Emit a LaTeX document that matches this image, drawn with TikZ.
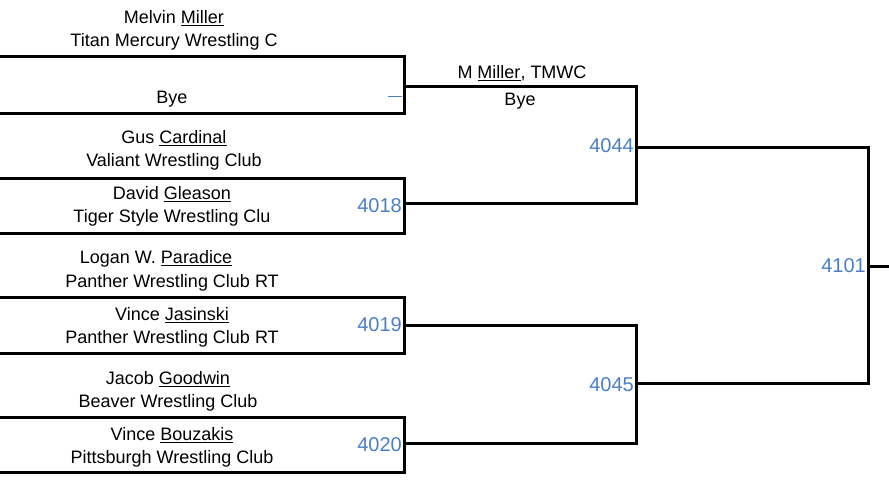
\documentclass[tikz,border=0pt]{standalone}
\usepackage{fontspec}
\setmainfont{Liberation Sans}
\definecolor{numblue}{HTML}{4A7FC8}
\begin{document}
\begin{tikzpicture}[x=1pt,y=-1pt,
  br/.style={line width=3pt,line cap=rect},
  nm/.style={font=\fontsize{18}{20}\selectfont,inner sep=0pt,anchor=center},
  num/.style={font=\fontsize{20}{22}\selectfont,text=numblue,inner sep=0pt,anchor=east}]
\useasboundingbox (0,0) rectangle (889,480);
% first round
\coordinate (a1) at (0,56); \coordinate (a2) at (0,113);
\coordinate (b1) at (0,178); \coordinate (b2) at (0,233);
\coordinate (c1) at (0,297); \coordinate (c2) at (0,353);
\coordinate (d1) at (0,417); \coordinate (d2) at (0,472);
\draw[br] (a1) -- (404,56) -- (404,113) -- (a2);
\draw[br] (b1) -- (404,178) -- (404,233) -- (b2);
\draw[br] (c1) -- (404,297) -- (404,353) -- (c2);
\draw[br] (d1) -- (404,417) -- (404,472) -- (d2);
\draw[numblue,line width=0.8pt] (388,96) -- (402,96);
% second round
\draw[br] (404,86) -- (636,86) -- (636,203) -- (404,203);
\draw[br] (404,325) -- (636,325) -- (636,443) -- (404,443);
% third
\draw[br] (636,147) -- (868,147) -- (868,383) -- (636,383);
\draw[br] (868,266) -- (889,266);
% names
\node[nm] (t1) at (174,18) {Melvin \underline{Miller}};
\node[nm] (t2) at (174,42) {Titan Mercury Wrestling C};
\node[nm] (t3) at (172,99) {Bye};
\node[nm] (t4) at (174,138) {Gus \underline{Cardinal}};
\node[nm] (t5) at (174,162) {Valiant Wrestling Club};
\node[nm] (t6) at (172,194) {David \underline{Gleason}};
\node[nm] (t7) at (172,218) {Tiger Style Wrestling Clu};
\node[nm] (t8) at (156,259) {Logan W. \underline{Paradice}};
\node[nm] (t9) at (172,283) {Panther Wrestling Club RT};
\node[nm] (t10) at (172,315) {Vince \underline{Jasinski}};
\node[nm] (t11) at (172,339) {Panther Wrestling Club RT};
\node[nm] (t12) at (168,379) {Jacob \underline{Goodwin}};
\node[nm] (t13) at (168,403) {Beaver Wrestling Club};
\node[nm] (t14) at (172,435) {Vince \underline{Bouzakis}};
\node[nm] (t15) at (172,459) {Pittsburgh Wrestling Club};
\node[nm] (t16) at (522,73) {M \underline{Miller}, TMWC};
\node[nm] (t17) at (520,101) {Bye};
% numbers
\node[num] (n1) at (402,206) {4018};
\node[num] (n2) at (402,325) {4019};
\node[num] (n3) at (402,445) {4020};
\node[num] (n4) at (634,146) {4044};
\node[num] (n5) at (634,385) {4045};
\node[num] (n6) at (866,266) {4101};
\end{tikzpicture}
\end{document}
